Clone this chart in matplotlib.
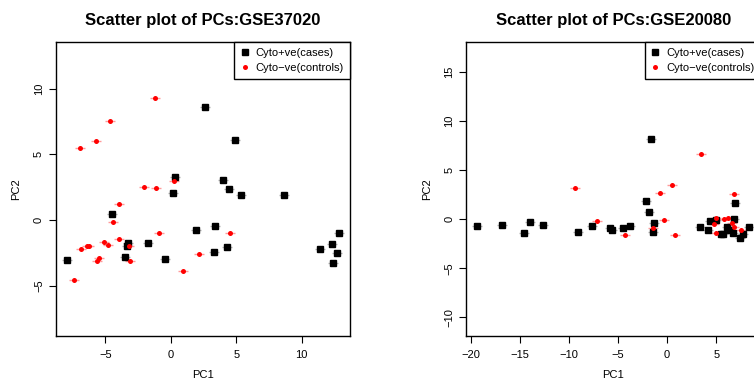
import matplotlib
matplotlib.use("Agg")
import matplotlib.pyplot as plt
import numpy as np

plt.rcParams['font.family'] = ['Liberation Sans', 'DejaVu Sans']

# GSE37020 - cases (black squares)
gse37020_cases_pc1 = [2.65, 4.89, 0.36, 0.18, 4.02, 4.48, 5.39, 8.68, -4.45, 1.96, 3.41,
                      12.88, 12.34, 11.42, 12.72, 12.42, -1.70, -3.23, -3.31, -3.46,
                      -0.41, 3.33, 4.33, -7.94]
gse37020_cases_pc2 = [8.58, 6.07, 3.25, 2.08, 3.02, 2.34, 1.88, 1.88, 0.43, -0.79, -0.48,
                      -1.02, -1.85, -2.23, -2.54, -3.30, -1.78, -1.78, -2.00, -2.84,
                      -2.99, -2.46, -2.08, -3.07]
# GSE37020 - controls (red circles)
gse37020_ctrl_pc1 = [-1.20, -4.63, -5.67, -6.95, 0.23, -2.01, -1.12, -3.97, -4.43, -0.89,
                     4.53, -3.94, -5.06, -4.76, -6.36, -6.21, -6.87, -3.18, -5.45, -5.60,
                     -3.10, 2.19, 0.97, -7.35]
gse37020_ctrl_pc2 = [9.31, 7.54, 6.04, 5.51, 2.99, 2.51, 2.44, 1.19, -0.13, -0.96,
                     -0.96, -1.47, -1.65, -1.88, -1.98, -1.98, -2.18, -1.95, -2.87, -3.10,
                     -3.10, -2.56, -3.88, -4.54]

# GSE20080 - cases
gse20080_cases_pc1 = [-19.36, -16.81, -14.57, -13.96, -12.64, -9.07, -7.64, -5.81, -5.60,
                      -4.48, -3.77, -2.14, -1.83, -1.63, -1.32, -1.43, 3.36, 4.18, 4.38,
                      4.99, 5.50, 5.70, 6.11, 6.42, 6.73, 6.83, 6.93, 7.44, 7.74, 8.39]
gse20080_cases_pc2 = [-0.71, -0.61, -1.43, -0.31, -0.61, -1.32, -0.71, -0.92, -1.12,
                      -0.92, -0.71, 1.83, 0.71, 8.15, -0.41, -1.32, -0.82, -1.12, -0.20,
                      -0.10, -1.53, -1.53, -0.82, -1.12, -1.43, 0.00, 1.63, -1.94, -1.53, -0.82]
# GSE20080 - controls
gse20080_ctrl_pc1 = [3.46, 0.54, -0.71, 6.83, -7.20, -4.35, -1.43, -0.37, 0.78, -9.37,
                     4.99, 4.82, 4.99, 5.81, 6.22, 6.62, 6.83, 7.54]
gse20080_ctrl_pc2 = [6.66, 3.53, 2.72, 2.62, -0.14, -1.60, -0.92, -0.03, -1.60, 3.23,
                     0.17, -0.44, -1.36, 0.00, 0.17, -0.34, -0.82, -1.05]

panels = [
    ("Scatter plot of PCs:GSE37020", gse37020_cases_pc1, gse37020_cases_pc2,
     gse37020_ctrl_pc1, gse37020_ctrl_pc2, (-8.78, 13.69), (-8.83, 13.58),
     [-5, 0, 5, 10], [-5, 0, 5, 10]),
    ("Scatter plot of PCs:GSE20080", gse20080_cases_pc1, gse20080_cases_pc2,
     gse20080_ctrl_pc1, gse20080_ctrl_pc2, (-20.48, 9.52), (-11.89, 18.1),
     [-20, -15, -10, -5, 0, 5], [-10, -5, 0, 5, 10, 15]),
]

fig = plt.figure(figsize=(7.54, 3.81), dpi=100)
lefts = [0.0739, 0.6184]

for left, (title, cx, cy, rx, ry, xlim, ylim, xt, yt) in zip(lefts, panels):
    ax = fig.add_axes([left, 0.1181, 0.3903, 0.7724])
    # little horizontal dashes behind each point
    ax.plot(cx, cy, ls='none', marker='_', ms=7, mew=1, color='#b0b0b0', zorder=2)
    ax.plot(rx, ry, ls='none', marker='_', ms=7, mew=1, color='#ff9a9a', zorder=2)
    ax.plot(cx, cy, ls='none', marker='s', ms=4.2, color='black', zorder=3,
            label='Cyto+ve(cases)')
    ax.plot(rx, ry, ls='none', marker='o', ms=3.6, color='red', mec='none', zorder=3,
            label='Cyto\u2212ve(controls)')
    ax.set_xlim(*xlim)
    ax.set_ylim(*ylim)
    ax.set_xticks(xt)
    ax.set_yticks(yt)
    ax.set_xticklabels([str(v).replace('-', '\u2212') for v in xt])
    ax.set_yticklabels([str(v).replace('-', '\u2212') for v in yt], rotation=90, va='center')
    ax.tick_params(direction='out', length=5, width=0.8, labelsize=8, pad=5)
    ax.tick_params(axis='y', pad=3.5)
    for s in ax.spines.values():
        s.set_linewidth(1.0)
    ax.set_xlabel('PC1', fontsize=8, labelpad=7.5)
    ax.set_ylabel('PC2', fontsize=8, labelpad=9)
    ax.set_title(title, fontsize=12, fontweight='bold', pad=12)
    leg = ax.legend(loc='upper right', borderaxespad=0, fancybox=False, framealpha=1,
                    edgecolor='black', fontsize=8, handlelength=0.8, handletextpad=0.6,
                    borderpad=0.55, labelspacing=0.45)
    leg.get_frame().set_linewidth(1.0)

fig.savefig('out.png', dpi=100)
